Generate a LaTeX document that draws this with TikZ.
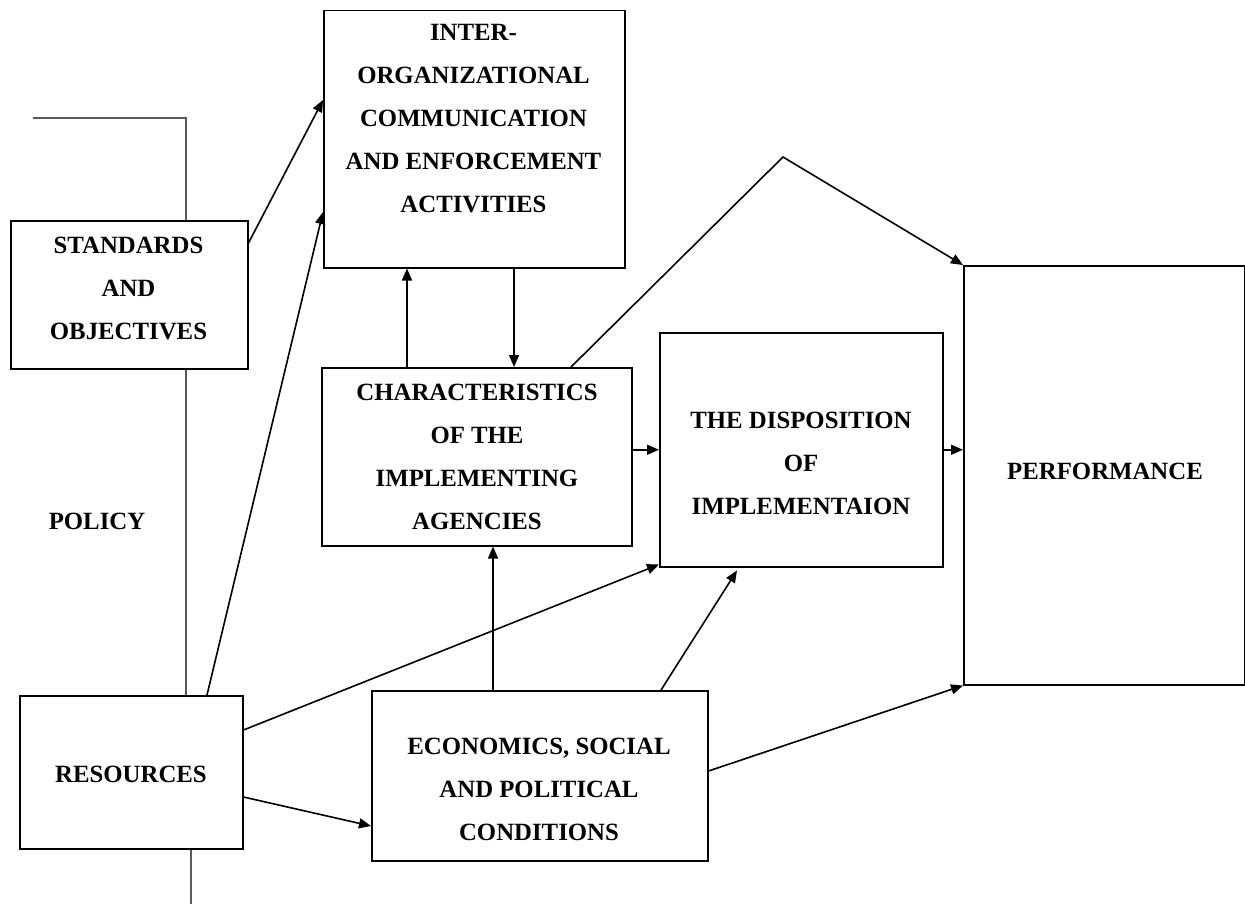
\documentclass[tikz,border=0pt]{standalone}
\usepackage{fontspec}
\setmainfont{Liberation Serif}
\usetikzlibrary{arrows.meta,calc,backgrounds}
\begin{document}
\begin{tikzpicture}[x=0.5pt,y=-0.5pt,
 box/.style={draw,line width=0.75pt,fill=white,inner sep=0pt,anchor=north west},
 lbl/.style={font=\fontsize{12.4}{21.5}\selectfont\bfseries,align=center,inner sep=0pt},
 arr/.style={line width=0.8pt,-{Triangle[length=6pt,width=5pt]}},
 pol/.style={line width=0.8pt,draw=black!65}]
\useasboundingbox (0,0) rectangle (1245,904);

% boxes
\node[box,minimum width=118.5pt,minimum height=74pt] (std) at (10,220) {};
\node[box,minimum width=150.5pt,minimum height=128.5pt] (inter) at (323,10) {};
\node[box,minimum width=155pt,minimum height=89pt] (char) at (321,367) {};
\node[box,minimum width=141.5pt,minimum height=117pt] (disp) at (659,332) {};
\node[box,minimum width=140.5pt,minimum height=209.5pt] (perf) at (963,265) {};
\node[box,minimum width=111.5pt,minimum height=76.5pt] (res) at (19,695) {};
\node[box,minimum width=168pt,minimum height=85pt] (econ) at (371,690) {};

% texts
\node[lbl] (stdT) at (128.5,288) {STANDARDS\\AND\\OBJECTIVES};
\node[lbl] (interT) at (473.5,119) {INTER-\\ORGANIZATIONAL\\COMMUNICATION\\AND ENFORCEMENT\\ACTIVITIES};
\node[lbl] (charT) at (477,457) {CHARACTERISTICS\\OF THE\\IMPLEMENTING\\AGENCIES};
\node[lbl] (dispT) at (801,463) {THE DISPOSITION\\OF\\IMPLEMENTAION};
\node[lbl] (perfT) at (1105,471) {PERFORMANCE};
\node[lbl] (resT) at (131,774) {RESOURCES};
\node[lbl] (econT) at (539,789) {ECONOMICS, SOCIAL\\AND POLITICAL\\CONDITIONS};
\node[lbl] (policy) at (97,521) {POLICY};

% policy line (behind boxes)
\coordinate (p0) at (33,118);
\coordinate (pend) at (191,904);
\coordinate (pa) at ($(res.north west)+(167,0)$);
\coordinate (pb) at ($(res.south west)+(172,0)$);
\begin{pgfonlayer}{background}
\draw[pol] (p0) -- (pa |- p0) -- (pa);
\draw[pol] (pb) -- (pend);
\end{pgfonlayer}

% arrows
\draw[arr] ($(std.north east)+(0,23)$) -- ($(inter.north west)+(0,90)$);
\draw[arr] ($(res.north west)+(188,0)$) -- ($(inter.north west)+(0,202)$);

\coordinate (cu) at ($(char.north west)+(86,0)$);
\draw[arr] (cu) -- (cu |- inter.south);
\coordinate (cd) at ($(inter.south west)+(191,0)$);
\draw[arr] (cd) -- (cd |- char.north);

\draw[arr] (char.east |- disp.west) -- (disp.west);
\draw[arr] (disp.east) -- (disp.east -| perf.west);

\coordinate (peak) at (783,157);
\draw[arr] ($(char.north west)+(250,0)$) -- (peak) -- (perf.north west);

\coordinate (eu) at ($(econ.north west)+(122,0)$);
\draw[arr] (eu) -- (eu |- char.south);
\draw[arr] ($(econ.north west)+(290,0)$) -- ($(disp.south west)+(78,3)$);
\draw[arr] ($(econ.north east)+(0,81)$) -- (perf.south west);

\draw[arr] ($(res.north east)+(0,35)$) -- ($(disp.south west)+(0,-3)$);
\draw[arr] ($(res.north east)+(0,102)$) -- ($(econ.north west)+(0,136)$);
\end{tikzpicture}
\end{document}
